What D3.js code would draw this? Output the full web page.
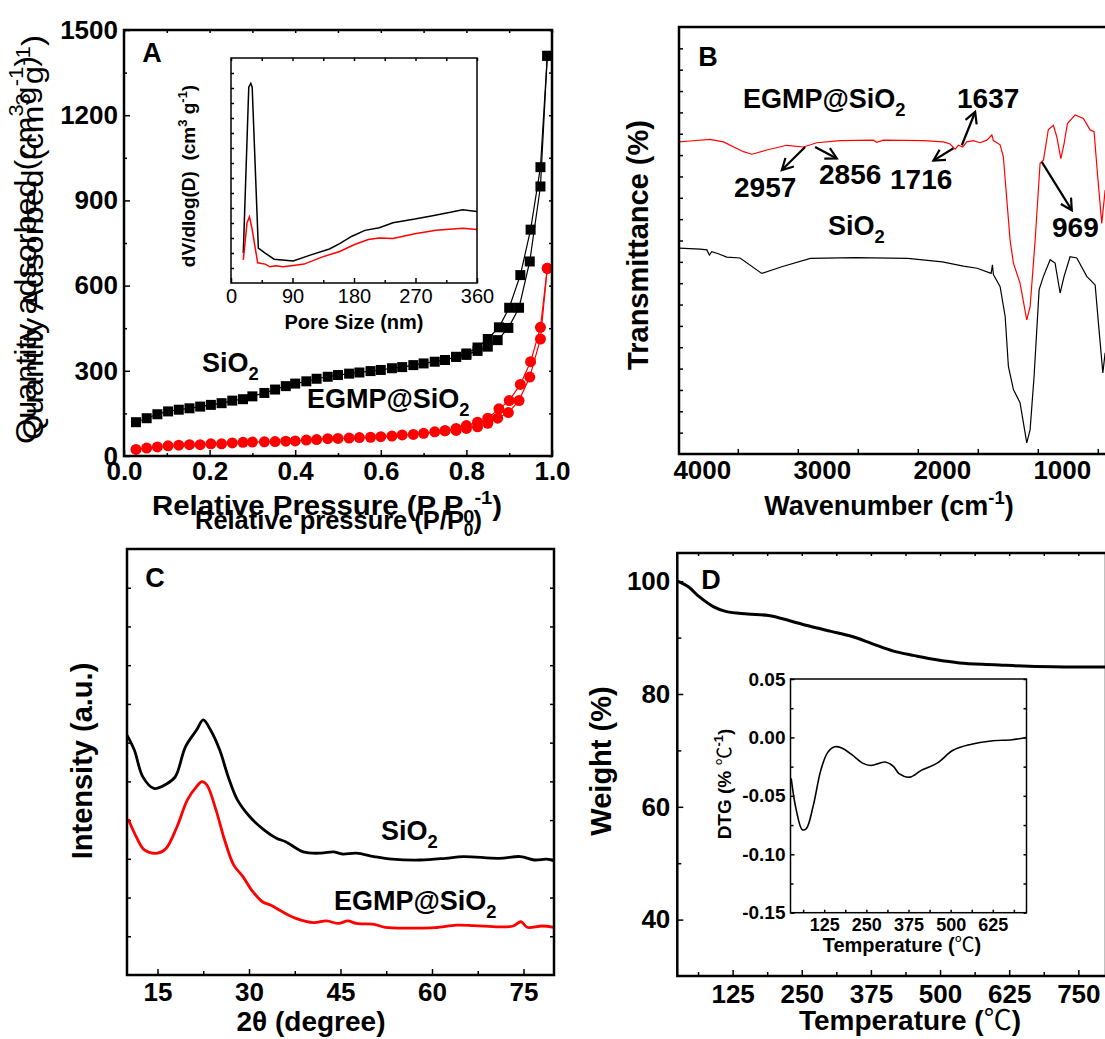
<!DOCTYPE html>
<html>
<head>
<meta charset="utf-8">
<script src="https://cdn.jsdelivr.net/npm/d3@7"></script>
<style>
  body { margin: 0; background: #fff; }
  svg text { font-family: "Liberation Sans", Arial, sans-serif; fill: #000; white-space: pre; }
</style>
</head>
<body>
<svg id="fig" width="1105" height="1039"></svg>
<script>
// ---------------- Panel A: N2 isotherms ----------------
const isoP = [0.028,0.053,0.078,0.103,0.128,0.153,0.178,0.203,0.228,0.253,0.278,0.300,0.328,0.353,0.378,0.400,0.426,0.450,0.476,0.500,0.526,0.550,0.576,0.600,0.626,0.650,0.676,0.700,0.726,0.750,0.776,0.800,0.826,0.850,0.873,0.898,0.923,0.948,0.973,0.989];
const siAds = [119,133,147,157,163,168,174,180,186,195,200,210,222,234,246,255,263,272,279,285,290,294,299,303,309,313,320,326,332,338,349,356,370,385,408,451,522,685,949,1409];
const egAds = [23,28,32,36,38,40,40,43,43,46,48,49,50,51,52,53,56,58,61,62,63,65,66,68,70,74,76,80,85,89,90,97,103,115,133,153,195,278,412,661];
const desP = [0.989,0.973,0.950,0.926,0.900,0.876,0.850,0.826,0.800,0.776,0.750];
const siDes = [1409,1017,797,637,522,453,412,382,361,349,338];
const egDes = [661,453,332,252,195,166,133,119,107,97,89];

// inset: pore size distribution
const poreBlackX = [18,26,29,31,40,50,63,91,117,144,159,177,196,217,237,269,295,321,339,360];
const poreBlackY = [0.133,0.87,0.887,0.87,0.155,0.133,0.106,0.098,0.125,0.151,0.175,0.208,0.234,0.246,0.268,0.284,0.299,0.314,0.326,0.318];
const poreRedX = [18,23.5,27,31,39,50,57,65,76,97,107,133,159,180,201,217,237,269,300,339,360];
const poreRedY = [0.103,0.268,0.294,0.238,0.09,0.084,0.072,0.077,0.072,0.08,0.084,0.115,0.14,0.17,0.193,0.2,0.198,0.219,0.234,0.243,0.238];

// ---------------- Panel B: FTIR ----------------
const irWnRed = [4190,4098,3931,3820,3653,3583,3458,3292,3153,3042,2847,2570,2542,2487,2153,1987,1931,1889,1862,1825,1792,1737,1681,1625,1583,1570,1514,1487,1458,1431,1403,1348,1292,1264,1222,1181,1153,1112,1070,1042,1008,981,953,889,820,764,731,703,667,647,639];
const irRed = [73.1,73.3,73.7,73.1,70.8,70.2,71.2,72.3,71.9,72.9,73.4,73.5,73.0,73.5,73.4,73.1,72.6,71.4,72.3,71.9,73.1,73.4,72.9,73.5,74.7,73.4,72.4,69.6,59.5,50.1,44.7,40.0,31.4,34.5,50.1,68.1,68.8,76.0,77.0,74.3,69.2,72.7,77.4,79.4,78.6,75.9,75.5,65.7,54.0,59.5,61.8];
const irWnBlack = [4190,4014,3958,3937,3917,3862,3792,3681,3501,3327,3095,2719,2284,1995,1821,1705,1589,1578,1570,1514,1472,1445,1403,1348,1292,1264,1231,1189,1153,1097,1056,1014,981,931,875,792,722,695,658,639];
const irBlack = [48.2,48.0,47.8,46.6,47.4,46.9,46.1,45.9,42.3,43.9,45.8,46.0,45.8,45.0,44.0,43.5,42.3,44.3,42.0,39.2,32.2,20.5,15.1,12.0,2.6,5.7,18.2,38.5,41.6,45.5,44.7,37.7,41.6,46.2,45.9,41.6,39.6,30.7,19.0,23.7];
// peak annotations: [label wavenumber, arrow start wn, start T, arrow end wn, end T]
const irArrows = [
  ["2957", 3139, 71.9, 3333, 66.5],
  ["2856", 3056, 71.9, 2875, 69.2],
  ["1716", 1903, 71.6, 2070, 68.7],
  ["1637", 1833, 72.3, 1722, 80.1],
  ["969", 1167, 68.4, 917, 57.1]
];

// ---------------- Panel C: XRD ----------------
const xrdSiX = [10,11.2,12.6,14.4,16.4,17.9,19.6,21.4,22.5,23.7,25.2,26.6,28.1,30.1,32.5,34.5,36,38.9,41.8,43.8,45.3,47.6,50.5,53.5,58.1,62.2,65.1,71,74.5,76.8,78.8,80];
const xrdSiY = [0.563,0.528,0.465,0.438,0.448,0.465,0.536,0.575,0.599,0.575,0.528,0.465,0.411,0.372,0.34,0.321,0.313,0.289,0.286,0.289,0.284,0.286,0.278,0.272,0.27,0.274,0.278,0.274,0.278,0.27,0.272,0.268];
const xrdEgX = [10.2,11.5,12.9,15,16.4,18.2,19.9,21.4,22.3,23.1,24.6,26,27.5,29,30.4,32.2,33.6,35.4,37.7,40.6,42.7,44.7,46.2,47.6,50.5,52.3,56.4,60.5,64,66.9,71,73.3,74.6,75.6,78,80];
const xrdEgY = [0.366,0.325,0.293,0.286,0.297,0.348,0.411,0.442,0.454,0.446,0.387,0.317,0.258,0.231,0.2,0.172,0.164,0.149,0.133,0.123,0.127,0.121,0.127,0.121,0.119,0.112,0.11,0.111,0.117,0.116,0.113,0.115,0.125,0.112,0.115,0.112];

// ---------------- Panel D: TG / DTG ----------------
const tgT = [25,45,64,90,114,152,190,228,265,303,341,378,416,454,491,535,598,661,724,800];
const tgW = [100,99,97.3,95.5,94.6,94.2,93.9,93,92,91.1,90.2,88.9,87.6,86.8,86.1,85.5,85.2,84.9,84.8,84.8];
const dtgT = [27,42,60,72,92,115,135,156,177,208,239,264,306,331,347,378,414,460,507,559,620,682,725];
const dtgV = [-0.035,-0.062,-0.079,-0.078,-0.059,-0.028,-0.013,-0.008,-0.009,-0.015,-0.022,-0.024,-0.021,-0.025,-0.031,-0.034,-0.028,-0.022,-0.011,-0.006,-0.003,-0.002,0.0];

// tick values
const aXMajor = [0,0.2,0.4,0.6,0.8,1.0], aXMinor = [0.1,0.3,0.5,0.7,0.9];
const aYMajor = [0,300,600,900,1200,1500], aYMinor = [150,450,750,1050,1350];
const aiXMajor = [0,90,180,270,360], aiXMinor = [45,135,225,315];
const bXLabels = [4000,3000,2000,1000], bXTicks = [3700,3200,2700,2200,1700,1200,700];
const cXMajor = [15,30,45,60,75], cXMinor = [22.5,37.5,52.5,67.5];
const dXMajor = [125,250,375,500,625,750], dXMinor = [62.5,187.5,312.5,437.5,562.5,687.5];
const dYMajor = [40,60,80,100], dYMinor = [50,70,90];
const diXMajor = [125,250,375,500,625], diXMinor = [62.5,187.5,312.5,437.5,562.5,687.5];
const diYMajor = [-0.15,-0.10,-0.05,0,0.05], diYMinor = [-0.125,-0.075,-0.025,0.025];

const zip = (a, b) => a.map((v, i) => [v, b[i]]);

const svg = d3.select("#fig");
svg.append("rect").attr("width", 1105).attr("height", 1039).attr("fill", "#fff");

svg.append("defs").append("marker")
  .attr("id", "arr").attr("markerUnits", "userSpaceOnUse")
  .attr("markerWidth", 16).attr("markerHeight", 16)
  .attr("refX", 12).attr("refY", 7).attr("orient", "auto")
  .append("path").attr("d", "M1,1 L12,7 L1,13")
  .attr("fill", "none").attr("stroke", "#000").attr("stroke-width", 2.2);

// text with sub/superscripts: parts = [str] or [str, "sub"|"sup"|"cjk"]
function label(g, o) {
  const t = g.append("text")
    .attr("font-size", o.size)
    .attr("font-weight", o.weight || "bold")
    .attr("text-anchor", o.anchor || "start");
  if (o.rotate) t.attr("transform", "translate(" + o.x + "," + o.y + ") rotate(-90)");
  else t.attr("x", o.x).attr("y", o.y);
  if (o.len) t.attr("textLength", o.len).attr("lengthAdjust", "spacingAndGlyphs");
  let cur = 0;
  o.parts.forEach(p => {
    const s = p[0], k = p[1] || "n";
    const target = k === "sub" ? 0.28 * o.size : k === "sup" ? -0.42 * o.size : 0;
    const ts = t.append("tspan").text(s).attr("dy", target - cur);
    if (k === "sub" || k === "sup") ts.attr("font-size", o.size * 0.68);
    if (k === "cjk") ts.attr("font-family", '"Noto Sans CJK SC"').attr("font-weight", "normal");
    cur = target;
  });
  return t;
}

// tick helper; size negative = inward
function ticks(g, axis, scale, vals, size, pos, fmt, fs, pad, weight) {
  const a = axis(scale).tickValues(vals).tickSizeInner(size).tickSizeOuter(0)
    .tickPadding(pad || 0).tickFormat(fmt || (() => ""));
  const gg = g.append("g").attr("transform", pos).call(a);
  gg.select(".domain").remove();
  gg.selectAll("line").attr("stroke", "#000").attr("stroke-width", 1.5);
  gg.selectAll("text").attr("font-size", fs || 10).attr("font-weight", weight || "bold")
    .attr("fill", "#000").attr("font-family", '"Liberation Sans", Arial, sans-serif');
  return gg;
}

function frame(g, x, y, sw) {
  const [x0, x1] = x.range(), [y0, y1] = y.range();
  g.append("rect").attr("x", x0).attr("y", y1).attr("width", x1 - x0).attr("height", y0 - y1)
    .attr("fill", "none").attr("stroke", "#000").attr("stroke-width", sw);
}

const lineOf = (x, y, curve) => d3.line().x(d => x(d[0])).y(d => y(d[1])).curve(curve || d3.curveLinear);

// =============== Panel A ===============
const gA = svg.append("g");
const xA = d3.scaleLinear().domain([0, 1]).range([124, 552]);
const yA = d3.scaleLinear().domain([0, 1500]).range([456, 30]);

ticks(gA, d3.axisBottom, xA, aXMajor, -6, "translate(0,456)", d3.format(".1f"), 26, 6);
ticks(gA, d3.axisBottom, xA, aXMinor, -3, "translate(0,456)");
ticks(gA, d3.axisLeft, yA, aYMajor, -6, "translate(124,0)", d3.format("d"), 26, 6);
ticks(gA, d3.axisLeft, yA, aYMinor, -3, "translate(124,0)");
ticks(gA, d3.axisTop, xA, aXMajor.concat(aXMinor), -3, "translate(0,30)");
ticks(gA, d3.axisRight, yA, aYMajor.concat(aYMinor), -3, "translate(552,0)");

const siAdsPts = zip(isoP, siAds), siDesPts = zip(desP, siDes);
const egAdsPts = zip(isoP, egAds), egDesPts = zip(desP, egDes);
const lA = lineOf(xA, yA);
[[siAdsPts, "#000"], [siDesPts, "#000"], [egAdsPts, "#f00"], [egDesPts, "#f00"]].forEach(([pts, c]) => {
  gA.append("path").attr("d", lA(pts)).attr("fill", "none").attr("stroke", c).attr("stroke-width", 1.2);
});
gA.selectAll(".sq").data(siAdsPts.concat(siDesPts)).enter().append("rect")
  .attr("x", d => xA(d[0]) - 5).attr("y", d => yA(d[1]) - 5)
  .attr("width", 10).attr("height", 10).attr("fill", "#000");
gA.selectAll(".ci").data(egAdsPts.concat(egDesPts)).enter().append("circle")
  .attr("cx", d => xA(d[0])).attr("cy", d => yA(d[1])).attr("r", 5.5).attr("fill", "#f00");
frame(gA, xA, yA, 2.5);

// inset
const xAi = d3.scaleLinear().domain([0, 360]).range([231, 477]);
const yAi = d3.scaleLinear().domain([0, 1]).range([283, 58]);
gA.append("rect").attr("x", 231).attr("y", 58).attr("width", 246).attr("height", 225).attr("fill", "#fff");
ticks(gA, d3.axisBottom, xAi, aiXMajor, -5, "translate(0,283)", d3.format("d"), 20, 6, "normal");
ticks(gA, d3.axisBottom, xAi, aiXMinor, -3, "translate(0,283)");
ticks(gA, d3.axisLeft, yAi, d3.range(1, 15).map(i => i / 15), -3, "translate(231,0)");
ticks(gA, d3.axisTop, xAi, aiXMajor.concat(aiXMinor), -3, "translate(0,58)");
gA.append("path").attr("d", lineOf(xAi, yAi)(zip(poreBlackX, poreBlackY)))
  .attr("fill", "none").attr("stroke", "#000").attr("stroke-width", 1.5);
gA.append("path").attr("d", lineOf(xAi, yAi)(zip(poreRedX, poreRedY)))
  .attr("fill", "none").attr("stroke", "#f00").attr("stroke-width", 1.5);
frame(gA, xAi, yAi, 1.5);
label(gA, { x: 354, y: 329, size: 20, anchor: "middle", parts: [["Pore Size (nm)"]] });
label(gA, { x: 195, y: 176, size: 19, anchor: "middle", rotate: true,
  parts: [["dV/dlog(D)  (cm"], ["3", "sup"], [" g"], ["-1", "sup"], [")"]] });

// titles and labels A
label(gA, { x: 36, y: 444, size: 30, weight: "normal", rotate: true, len: 388,
  parts: [["Quantity adsorbed (cm"], ["3", "sup"], ["g"], ["-1", "sup"], [")"]] });
label(gA, { x: 43, y: 440, size: 30, weight: "normal", rotate: true, len: 405,
  parts: [["Quantity Adsorbed (cm"], ["3", "sup"], [" g"], ["-1", "sup"], [")"]] });
label(gA, { x: 152, y: 515, size: 27, len: 350,
  parts: [["Relative Pressure (P P"], ["0", "sub"], ["-1", "sup"], [")"]] });
label(gA, { x: 195, y: 529, size: 26, len: 287,
  parts: [["Relative pressure (P/P"], ["0", "sub"], [")"]] });
label(gA, { x: 152, y: 62, size: 27, anchor: "middle", parts: [["A"]] });
label(gA, { x: 202, y: 372, size: 27, parts: [["SiO"], ["2", "sub"]] });
label(gA, { x: 307, y: 408, size: 27, parts: [["EGMP@SiO"], ["2", "sub"]] });

// =============== Panel B ===============
const gB = svg.append("g");
const xB = d3.scaleLinear().domain([4190, 600]).range([679, 1109.8]);
const yB = d3.scaleLinear().domain([0, 100]).range([454, 27]);
ticks(gB, d3.axisBottom, xB, bXLabels, 0, "translate(0,454)", d3.format("d"), 26, 7);
ticks(gB, d3.axisBottom, xB, bXTicks, -5, "translate(0,454)");
ticks(gB, d3.axisLeft, yB, d3.range(5, 100, 5), -4, "translate(679,0)");
gB.append("path").attr("d", lineOf(xB, yB)(zip(irWnRed, irRed)))
  .attr("fill", "none").attr("stroke", "#f00").attr("stroke-width", 1.2);
gB.append("path").attr("d", lineOf(xB, yB)(zip(irWnBlack, irBlack)))
  .attr("fill", "none").attr("stroke", "#000").attr("stroke-width", 1.2);
frame(gB, xB, yB, 2.5);
gB.selectAll(".arr").data(irArrows).enter().append("line")
  .attr("x1", d => xB(d[1])).attr("y1", d => yB(d[2]))
  .attr("x2", d => xB(d[3])).attr("y2", d => yB(d[4]))
  .attr("stroke", "#000").attr("stroke-width", 2.2).attr("marker-end", "url(#arr)");
label(gB, { x: 648, y: 245, size: 29, anchor: "middle", rotate: true, parts: [["Transmittance (%)"]] });
label(gB, { x: 889, y: 515, size: 27, anchor: "middle", parts: [["Wavenumber (cm"], ["-1", "sup"], [")"]] });
label(gB, { x: 708, y: 66, size: 27, anchor: "middle", parts: [["B"]] });
label(gB, { x: 743, y: 108, size: 27, parts: [["EGMP@SiO"], ["2", "sub"]] });
label(gB, { x: 828, y: 235, size: 27, parts: [["SiO"], ["2", "sub"]] });
label(gB, { x: 957, y: 108, size: 28, parts: [["1637"]] });
label(gB, { x: 734, y: 197, size: 28, parts: [["2957"]] });
label(gB, { x: 819, y: 184, size: 28, parts: [["2856"]] });
label(gB, { x: 890, y: 189, size: 28, parts: [["1716"]] });
label(gB, { x: 1052, y: 237, size: 28, parts: [["969"]] });

// =============== Panel C ===============
const gC = svg.append("g");
const xC = d3.scaleLinear().domain([10, 80]).range([127, 554]);
const yC = d3.scaleLinear().domain([0, 1]).range([975, 549]);
const cYTicks = d3.range(1, 11).map(i => i / 11);
ticks(gC, d3.axisBottom, xC, cXMajor, -6, "translate(0,975)", d3.format("d"), 26, 8);
ticks(gC, d3.axisBottom, xC, cXMinor, -4, "translate(0,975)");
ticks(gC, d3.axisLeft, yC, cYTicks, -4, "translate(127,0)");
ticks(gC, d3.axisRight, yC, cYTicks, -4, "translate(554,0)");
gC.append("path").attr("d", lineOf(xC, yC, d3.curveCatmullRom)(zip(xrdSiX, xrdSiY)))
  .attr("fill", "none").attr("stroke", "#000").attr("stroke-width", 2.8);
gC.append("path").attr("d", lineOf(xC, yC, d3.curveCatmullRom)(zip(xrdEgX, xrdEgY)))
  .attr("fill", "none").attr("stroke", "#f00").attr("stroke-width", 2.8);
frame(gC, xC, yC, 2.5);
label(gC, { x: 92, y: 761, size: 29, anchor: "middle", rotate: true, parts: [["Intensity (a.u.)"]] });
label(gC, { x: 311, y: 1031, size: 28, anchor: "middle", parts: [["2θ (degree)"]] });
label(gC, { x: 155, y: 587, size: 27, anchor: "middle", parts: [["C"]] });
label(gC, { x: 381, y: 840, size: 27, parts: [["SiO"], ["2", "sub"]] });
label(gC, { x: 334, y: 910, size: 27, parts: [["EGMP@SiO"], ["2", "sub"]] });

// =============== Panel D ===============
const gD = svg.append("g");
const xD = d3.scaleLinear().domain([25, 800]).range([677.3, 1106]);
const yD = d3.scaleLinear().domain([30, 105]).range([976, 553]);
ticks(gD, d3.axisBottom, xD, dXMajor, -6, "translate(0,976)", d3.format("d"), 26, 9);
ticks(gD, d3.axisBottom, xD, dXMinor, -4, "translate(0,976)");
ticks(gD, d3.axisLeft, yD, dYMajor, -6, "translate(677.3,0)", d3.format("d"), 26, 7);
ticks(gD, d3.axisLeft, yD, dYMinor, -4, "translate(677.3,0)");
ticks(gD, d3.axisTop, xD, dXMajor.concat(dXMinor), -3, "translate(0,553)");
gD.append("path").attr("d", lineOf(xD, yD, d3.curveCatmullRom)(zip(tgT, tgW)))
  .attr("fill", "none").attr("stroke", "#000").attr("stroke-width", 3);
frame(gD, xD, yD, 2.5);
label(gD, { x: 611, y: 761, size: 29, anchor: "middle", rotate: true, parts: [["Weight (%)"]] });
label(gD, { x: 910, y: 1030, size: 28, anchor: "middle", parts: [["Temperature ("], ["℃", "cjk"], [")"]] });
label(gD, { x: 711, y: 589, size: 27, anchor: "middle", parts: [["D"]] });

// inset DTG
const xDi = d3.scaleLinear().domain([25, 725]).range([790.5, 1026.5]);
const yDi = d3.scaleLinear().domain([-0.15, 0.05]).range([912.7, 679]);
gD.append("rect").attr("x", 790.5).attr("y", 679).attr("width", 236).attr("height", 233.7).attr("fill", "#fff");
ticks(gD, d3.axisBottom, xDi, diXMajor, 0, "translate(0,912.7)", d3.format("d"), 18, 6);
ticks(gD, d3.axisBottom, xDi, diXMajor.concat(diXMinor), -3, "translate(0,912.7)");
ticks(gD, d3.axisLeft, yDi, diYMajor, -4, "translate(790.5,0)", d => d.toFixed(2), 19, 5);
ticks(gD, d3.axisLeft, yDi, diYMinor, -3, "translate(790.5,0)");
ticks(gD, d3.axisRight, yDi, diYMajor.concat(diYMinor), -3, "translate(1026.5,0)");
gD.append("path").attr("d", lineOf(xDi, yDi, d3.curveCatmullRom)(zip(dtgT, dtgV)))
  .attr("fill", "none").attr("stroke", "#000").attr("stroke-width", 1.6);
frame(gD, xDi, yDi, 1.5);
label(gD, { x: 731, y: 784, size: 19, anchor: "middle", rotate: true,
  parts: [["DTG (% "], ["℃", "cjk"], ["-1", "sup"], [")"]] });
label(gD, { x: 902, y: 952, size: 20, anchor: "middle", parts: [["Temperature ("], ["℃", "cjk"], [")"]] });
</script>
</body>
</html>
